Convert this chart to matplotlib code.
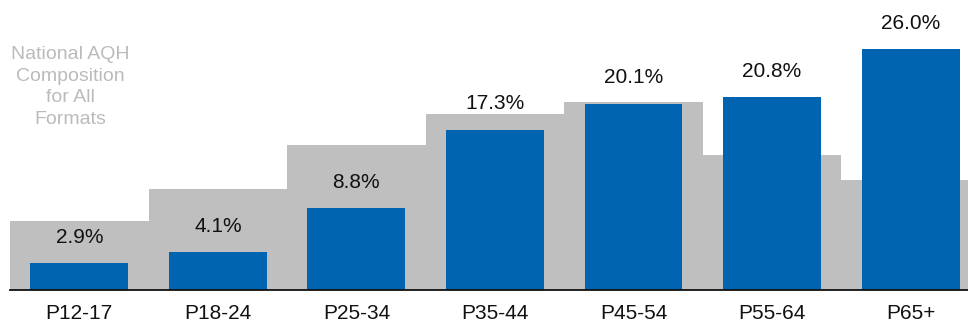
import matplotlib
matplotlib.use("Agg")
import matplotlib.pyplot as plt

categories = ["P12-17", "P18-24", "P25-34", "P35-44", "P45-54", "P55-64", "P65+"]
format_share = [2.9, 4.1, 8.8, 17.3, 20.1, 20.8, 26.0]
national_share = [7.4, 10.9, 15.6, 19.0, 20.3, 14.6, 11.9]
value_labels = ["2.9%", "4.1%", "8.8%", "17.3%", "20.1%", "20.8%", "26.0%"]
note_text = "National AQH\nComposition\nfor All\nFormats"

BLUE = "#0064B0"
GREY = "#BFBFBF"

plt.rcParams["font.family"] = ["Liberation Sans", "DejaVu Sans"]

fig = plt.figure(figsize=(9.68, 3.26), dpi=100)
W, H = 968, 326
base_y = 290
ax = fig.add_axes([10 / W, (H - base_y) / H, 1 - 10 / W, base_y / H])

x = list(range(len(categories)))
ax.bar(x, national_share, width=1.0, color=GREY, zorder=1)
ax.bar(x, format_share, width=0.707, color=BLUE, zorder=2)

for xi, v, lab in zip(x, format_share, value_labels):
    ax.annotate(lab, (xi, v), xytext=(0, 18.5), textcoords="offset points",
                ha="center", va="center", fontsize=15, color="#111111", zorder=3)

ax.set_xlim(-0.5, 6.414)
ax.set_ylim(0, 290 / 9.27)
ax.set_xticks(x)
ax.set_xticklabels(categories, fontsize=15, color="#111111")
ax.tick_params(axis="x", length=0, pad=10)
ax.set_yticks([])
for s in ["top", "right", "left"]:
    ax.spines[s].set_visible(False)
ax.spines["bottom"].set_color("#111111")
ax.spines["bottom"].set_linewidth(1.3)
ax.spines["bottom"].set_zorder(4)

fig.text(70 / W, 1 - 87 / H, note_text, ha="center", va="center",
         fontsize=14, color="#BBBBBB", linespacing=1.36)

fig.savefig("out.png", dpi=100)
